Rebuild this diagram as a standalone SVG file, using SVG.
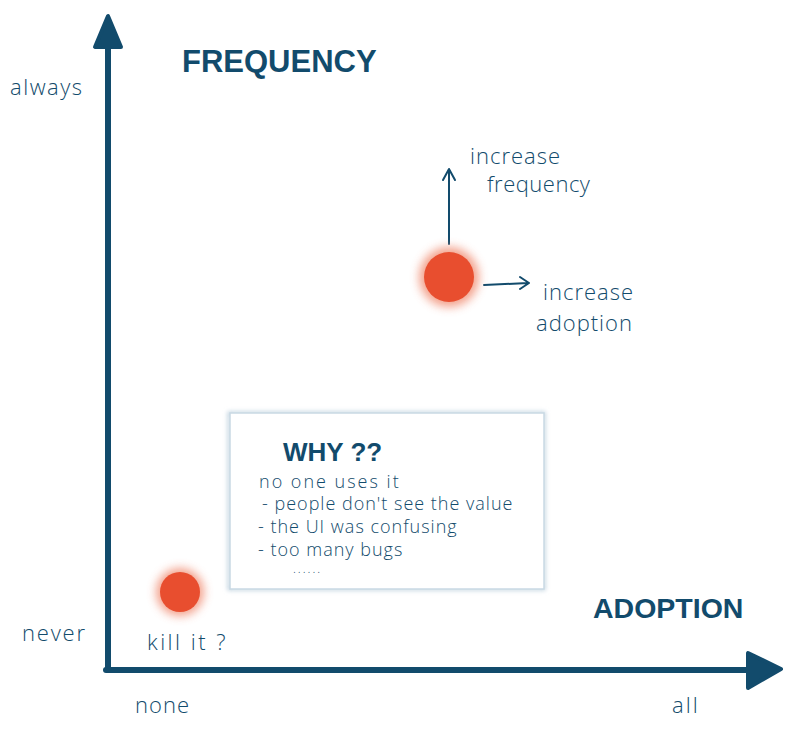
<svg xmlns="http://www.w3.org/2000/svg" width="800" height="735" viewBox="0 0 800 735">
<defs>
<style>
.t{font-family:"Open Sans","Liberation Sans",sans-serif;fill:#124b6c;font-weight:300}
.h{font-family:"Liberation Sans",Arial,sans-serif;fill:#124b6c;font-weight:bold}
.b{font-size:18px;letter-spacing:1px}
.l{font-size:22px;letter-spacing:1px}
.ax{stroke:#124b6c;stroke-width:6;fill:none;stroke-linecap:round}
.ar{stroke:#124b6c;stroke-width:2;fill:none;stroke-linecap:round;stroke-linejoin:round}
</style>
<filter id="blur" x="-50%" y="-50%" width="200%" height="200%"><feGaussianBlur stdDeviation="6"/></filter>
<filter id="glow" x="-50%" y="-50%" width="200%" height="200%"><feGaussianBlur stdDeviation="5"/></filter>
<filter id="bs" x="-10%" y="-10%" width="120%" height="120%"><feGaussianBlur stdDeviation="2"/></filter>
</defs>
<rect width="800" height="735" fill="#ffffff"/>
<g id="connectors">
<line x1="114" y1="60" x2="114" y2="670" stroke="#9fb7c7" stroke-width="10" filter="url(#blur)" opacity="0.6"/>
<line x1="110" y1="676" x2="740" y2="676" stroke="#9fb7c7" stroke-width="10" filter="url(#blur)" opacity="0.6"/>
<line class="ax" x1="108" y1="45" x2="108" y2="670"/>
<polygon points="108,16 95,47 121,47" fill="#124b6c" stroke="#124b6c" stroke-width="4" stroke-linejoin="round"/>
<line class="ax" x1="106" y1="670" x2="750" y2="670"/>
<polygon points="781,669 748,653 748,688" fill="#124b6c" stroke="#124b6c" stroke-width="4" stroke-linejoin="round"/>
<path class="ar" d="M449,244 L449,170 M443,180 L449,169 L455,180"/>
<path class="ar" d="M484,285 L528,283 M520,277 L529,283 L520,289"/>
</g>
<g id="y-axis-labels">
<text class="t l" x="10" y="95" style="letter-spacing:1.5px">always</text>
<text class="t l" x="22" y="641" style="letter-spacing:1.8px">never</text>
</g>
<g id="x-axis-labels">
<text class="t l" x="135" y="713">none</text>
<text class="t l" x="672" y="713" style="letter-spacing:2px">all</text>
</g>
<g id="frequency-title"><text class="h" x="182" y="72" font-size="31">FREQUENCY</text></g>
<g id="adoption-title"><text class="h" x="593" y="618" font-size="28.5">ADOPTION</text></g>
<g id="dot-high">
<circle cx="449" cy="277" r="30" fill="#f08a70" filter="url(#glow)" opacity="0.8"/>
<circle cx="449" cy="277" r="25" fill="#e84e2f"/>
</g>
<g id="increase-frequency">
<text class="t l" x="470" y="164">increase</text>
<text class="t l" x="487" y="192" style="letter-spacing:0.5px">frequency</text>
</g>
<g id="increase-adoption">
<text class="t l" x="543" y="300">increase</text>
<text class="t l" x="536" y="331">adoption</text>
</g>
<g id="dot-low">
<circle cx="180" cy="592" r="24" fill="#f08a70" filter="url(#glow)" opacity="0.8"/>
<circle cx="180" cy="592" r="20" fill="#e84e2f"/>
<text class="t l" x="147" y="650" style="letter-spacing:2.5px">kill it ?</text>
</g>
<g id="why-box">
<rect x="229" y="413" width="315" height="176" fill="none" stroke="#bcd0dd" stroke-width="3" filter="url(#bs)"/>
<rect x="230" y="413" width="314" height="176" fill="#ffffff" stroke="#c9d9e4" stroke-width="1.5"/>
<text class="h" x="283" y="461" font-size="26">WHY ??</text>
<text class="t b" x="259" y="488" style="letter-spacing:2px">no one uses it</text>
<text class="t b" x="262" y="510">- people don't see the value</text>
<text class="t b" x="258" y="533">- the UI was confusing</text>
<text class="t b" x="258" y="556">- too many bugs</text>
<text class="t" x="293" y="573" font-size="12" letter-spacing="2">......</text>
</g>
</svg>
